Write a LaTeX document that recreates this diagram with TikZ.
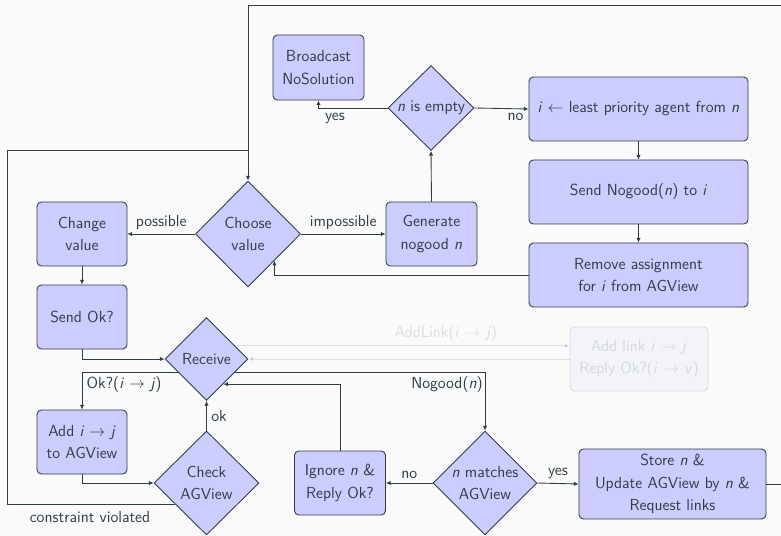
\documentclass[tikz,border=0pt]{standalone}
\usepackage{fontspec}
\usetikzlibrary{shapes.geometric,arrows.meta,calc}
\definecolor{ink}{RGB}{47,62,70}
\definecolor{boxfill}{RGB}{204,204,255}
\definecolor{paper}{RGB}{250,250,250}
\newcommand\vi[1]{\textit{#1}}
\tikzset{
  every node/.style={font=\sffamily\fontsize{11}{15.6}\selectfont, text=ink},
  stepbox/.style={draw=ink, fill=boxfill, rounded corners=3pt, align=center,
    line width=0.6pt, inner sep=2pt},
  decide/.style={diamond, draw=ink, fill=boxfill, aspect=1, align=center,
    inner sep=0pt, line width=0.6pt},
  flow/.style={draw=ink, line width=0.6pt, -{Latex[length=3.2pt,width=3pt]}},
  plain/.style={draw=ink, line width=0.6pt},
  faded/.style={opacity=0.15},
  lbl/.style={inner sep=3pt}
}
\begin{document}
\begin{tikzpicture}[x=0.6875pt, y=-0.6875pt]
\useasboundingbox (0,0) rectangle (781,536);
\fill[paper] (0,0) rectangle (781,536);
\clip (0,0) rectangle (781,536);

% decisions
\node[decide, minimum width=59.1pt, minimum height=58.4pt] (empty) at (431,108) {\vi{n} is empty};
\node[decide, minimum width=72.2pt, minimum height=72.9pt] (choose) at (248,234) {Choose\\value};
\node[decide, minimum width=57.1pt, minimum height=57.1pt] (receive) at (206.5,359) {Receive};
\node[decide, minimum width=72.2pt, minimum height=71.5pt] (check) at (206.5,483) {Check\\AGView};
\node[decide, minimum width=71.5pt, minimum height=71.5pt] (match) at (485,483) {\vi{n} matches\\AGView};

% actions
\node[stepbox, minimum width=62.6pt, minimum height=44.7pt] (bcast) at (318.5,67.5) {Broadcast\\NoSolution};
\node[stepbox, minimum width=150.6pt, minimum height=44pt] (least) at (638.5,109) {\vi{i} $\leftarrow$ least priority agent from \vi{n}};
\node[stepbox, minimum width=150.6pt, minimum height=44pt] (sendng) at (638.5,192) {Send Nogood(\vi{n}) to \vi{i}};
\node[stepbox, minimum width=150.6pt, minimum height=44pt] (remove) at (638.5,275) {Remove assignment\\for \vi{i} from AGView};
\node[stepbox, minimum width=62.6pt, minimum height=44pt] (gen) at (431.5,234) {Generate\\nogood \vi{n}};
\node[stepbox, minimum width=61.9pt, minimum height=44pt] (change) at (82,234) {Change\\value};
\node[stepbox, minimum width=61.9pt, minimum height=44pt] (sendok) at (82,317) {Send Ok?};
\node[stepbox, minimum width=61.9pt, minimum height=44pt] (addview) at (82,442) {Add \vi{i} $\rightarrow$ \vi{j}\\to AGView};
\node[stepbox, minimum width=62.6pt, minimum height=44pt] (ignore) at (340,483) {Ignore \vi{n} \&\\Reply Ok?};
\node[stepbox, minimum width=128.6pt, minimum height=48.1pt] (store) at (672.5,484) {Store \vi{n} \&\\Update AGView by \vi{n} \&\\Request links};
\node[stepbox, faded, minimum width=94.9pt, minimum height=44pt] (addlink) at (639,359) {Add link \vi{i} $\rightarrow$ \vi{j}\\Reply Ok?(\vi{i} $\rightarrow$ \vi{v})};

% points on diamond edges and loop corners
\coordinate (loopcorner) at (800,5);
\coordinate (cvcorner) at (7,150);
\coordinate (chooseback) at ($(choose.east)!0.5!(choose.south)$);
\coordinate (cvstart) at ($(check.west)!0.4!(check.south)$);
\coordinate (linkout) at ($(receive.north)!0.687!(receive.east)$);
\coordinate (okout) at ($(receive.west)!0.313!(receive.south)$);
\coordinate (ngout) at ($(receive.east)!0.313!(receive.south)$);
\coordinate (ignorein) at ($(receive.east)!0.6!(receive.south)$);

% main loop back to choosing a value
\draw[flow] (store.east) -| (loopcorner) -| (choose.north);
\draw[plain] (cvstart) -| (cvcorner) -- (cvcorner -| choose.north);
\node[lbl] (cvlabel) at (90,517) {constraint violated};

% nogood generation branch
\draw[flow] (choose.east) -- node[lbl, above] {impossible} (gen.west);
\draw[flow] (choose.west) -- node[lbl, above] {possible} (change.east);
\draw[flow] (gen.north) -- (empty.south);
\draw[flow] (empty.west) -| node[lbl, below, pos=0.38] {yes} (bcast.south);
\draw[flow] (empty.east) -- node[lbl, below, pos=0.76] {no} (least.west);
\draw[flow] (least.south) -- (sendng.north);
\draw[flow] (sendng.south) -- (remove.north);
\draw[flow] (remove.west) -| (chooseback);

% value change and message handling
\draw[flow] (change.south) -- (sendok.north);
\draw[flow] (sendok.south) |- (receive.west);
\draw[flow] (okout) -| node[lbl, below, pos=0.28] {Ok?(\vi{i} $\rightarrow$ \vi{j})} (addview.north);
\draw[flow] (ngout) -| node[lbl, below, pos=0.424] {Nogood(\vi{n})} (match.north);
\draw[flow] (addview.south) |- (check.west);
\draw[flow] (check.north) -- node[lbl, right] {ok} (receive.south);
\draw[flow] (match.west) -- node[lbl, above] {no} (ignore.east);
\draw[flow] (match.east) -- node[lbl, above] {yes} (store.west);
\draw[flow] (ignore.north) |- (ignorein);

% link requests
\draw[flow, faded] (linkout) -- node[lbl, above, pos=0.63] {AddLink(\vi{i} $\rightarrow$ \vi{j})} (linkout -| addlink.west);
\draw[flow, faded] (addlink.west) -- (receive.east);
\end{tikzpicture}
\end{document}
